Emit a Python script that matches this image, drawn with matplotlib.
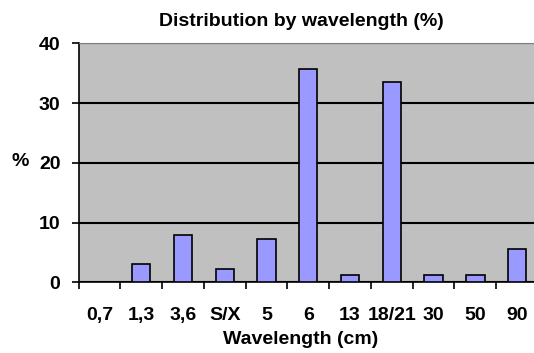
import matplotlib; matplotlib.use("Agg")
import matplotlib.pyplot as plt
import numpy as np

plt.rcParams.update({
    "font.family": ["Liberation Sans", "DejaVu Sans"],
    "font.weight": "bold", "font.size": 14,
})

categories = ["0,7", "1,3", "3,6", "S/X", "5", "6", "13", "18/21", "30", "50", "90"]
percent = [0, 3.0, 8.0, 2.3, 7.3, 35.7, 1.2, 33.5, 1.2, 1.2, 5.6]

W, H = 534, 353
fig = plt.figure(figsize=(W / 100, H / 100), dpi=100)
# plot area runs past the right edge of the image, as in the reference
ax = fig.add_axes([78.5 / W, 1 - 282.3 / H, (538 - 78.5) / W, (282.3 - 43.3) / H])
ax.set_facecolor("#C0C0C0")

x = np.arange(len(categories))
ax.bar(x, percent, width=0.44, color="#9999FF", edgecolor="black", lw=1.2, zorder=3)

ax.set_xlim(-0.5, len(categories) - 0.5)
ax.set_ylim(0, 40)
ax.set_yticks([0, 10, 20, 30, 40])
ax.yaxis.grid(True, color="black", lw=1.5, zorder=1)
ax.set_axisbelow(True)

ax.set_xticks(x)
ax.set_xticklabels(categories)
ax.set_xticks(np.arange(len(categories)) - 0.5, minor=True)
ax.tick_params(axis="x", which="major", length=0, pad=18, labelsize=14)
ax.tick_params(axis="x", which="minor", length=5, width=1.2, direction="out")
ax.tick_params(axis="y", length=5, width=1.2, direction="out", pad=8, labelsize=14)

for sp in ("top", "right"):
    ax.spines[sp].set_color("#808080")
ax.spines["left"].set_linewidth(1.2)
ax.spines["bottom"].set_linewidth(1.2)

fig.text(301 / W, 1 - 340 / H, "Wavelength (cm)", ha="center", va="center",
         fontsize=14, fontweight="bold")
fig.text(301 / W, 1 - 21 / H, "Distribution by wavelength (%)", ha="center", va="center",
         fontsize=14, fontweight="bold")
fig.text(20 / W, 1 - 162 / H, "%", ha="center", va="center", fontsize=14, fontweight="bold")

fig.savefig("out.png", dpi=100)
